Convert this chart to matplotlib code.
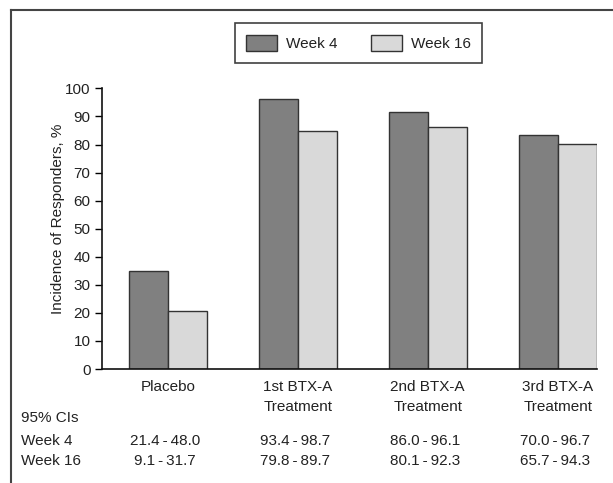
import numpy as np
import matplotlib
matplotlib.use('Agg')
import matplotlib.pyplot as plt
from matplotlib.lines import Line2D
from matplotlib.transforms import blended_transform_factory

plt.rcParams['font.family'] = ['Liberation Sans', 'DejaVu Sans']

groups = ['Placebo', '1st BTX-A\nTreatment', '2nd BTX-A\nTreatment', '3rd BTX-A\nTreatment']
week4 = [35.0, 96.2, 91.5, 83.5]
week16 = [20.8, 84.8, 86.4, 80.1]
ci_week4 = ['21.4\u2009-\u200948.0', '93.4\u2009-\u200998.7', '86.0\u2009-\u200996.1', '70.0\u2009-\u200996.7']
ci_week16 = ['9.1\u2009-\u200931.7', '79.8\u2009-\u200989.7', '80.1\u2009-\u200992.3', '65.7\u2009-\u200994.3']

txt = '#222222'
fig = plt.figure(figsize=(6.13, 4.83), dpi=100)
ax = fig.add_axes([0.1659, 0.236, 0.8075, 0.581])

x = np.arange(len(groups))
w = 0.3
b1 = ax.bar(x - w / 2, week4, w, color='#808080', edgecolor='#333333', linewidth=1, label='Week 4')
b2 = ax.bar(x + w / 2, week16, w, color='#d9d9d9', edgecolor='#333333', linewidth=1, label='Week 16')

ax.set_xlim(-0.508, 3.3)
ax.set_ylim(0, 100)
ax.set_yticks(np.arange(0, 101, 10))
ax.set_xticks(x)
ax.set_xticklabels(groups, fontsize=11, color=txt, linespacing=1.55)
ax.tick_params(axis='x', length=0, pad=8)
ax.tick_params(axis='y', length=5, width=1, labelsize=11, labelcolor=txt, pad=3)
for s in ['top', 'right']:
    ax.spines[s].set_visible(False)
for s in ['left', 'bottom']:
    ax.spines[s].set_linewidth(1.2)
    ax.spines[s].set_color('#111111')
ax.set_ylabel('Incidence of Responders, %', fontsize=11, color=txt)
ax.yaxis.set_label_coords(-0.074, 0.537)

leg = fig.legend(handles=[b1, b2], loc='center', bbox_to_anchor=(0.585, 0.911), ncol=2,
                 fontsize=11, frameon=True, fancybox=False, edgecolor='#111111',
                 handlelength=2.0, handleheight=1.3, columnspacing=2.2, borderpad=0.75,
                 handletextpad=0.6)
leg.get_frame().set_linewidth(1.2)
for t in leg.get_texts():
    t.set_color(txt)

# confidence interval table below the axis
tr = blended_transform_factory(ax.transData, fig.transFigure)
fig.text(21 / 613, 1 - 418 / 483, '95% CIs', fontsize=11, color=txt, va='center')
fig.text(21 / 613, 1 - 441 / 483, 'Week 4', fontsize=11, color=txt, va='center')
fig.text(21 / 613, 1 - 461 / 483, 'Week 16', fontsize=11, color=txt, va='center')
for i in range(len(groups)):
    ax.text(x[i] - 0.02, 1 - 441 / 483, ci_week4[i], transform=tr, ha='center', va='center',
            fontsize=11, color=txt)
    ax.text(x[i] - 0.02, 1 - 461 / 483, ci_week16[i], transform=tr, ha='center', va='center',
            fontsize=11, color=txt)

# outer frame (top and left edges visible)
fig.add_artist(Line2D([11 / 613, 1], [1 - 10 / 483, 1 - 10 / 483], transform=fig.transFigure,
                      color='#444444', linewidth=1.5))
fig.add_artist(Line2D([11 / 613, 11 / 613], [1 - 10 / 483, 0], transform=fig.transFigure,
                      color='#444444', linewidth=1.5))

fig.savefig('out.png', dpi=100)
